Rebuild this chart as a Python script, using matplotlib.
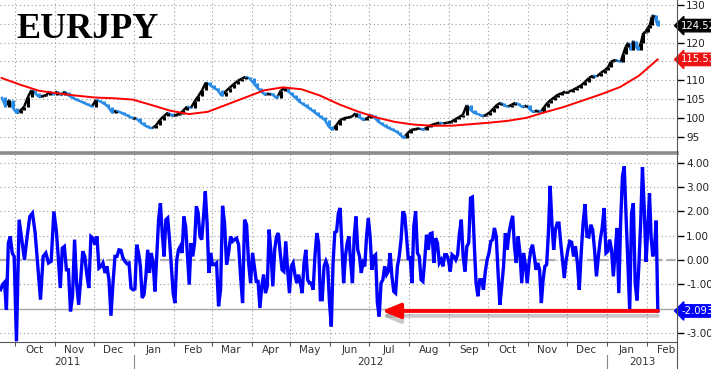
import matplotlib
matplotlib.use("Agg")
import matplotlib.pyplot as plt
import matplotlib.dates as mdates
import matplotlib.patheffects as pe
import matplotlib.transforms as mtrans
from matplotlib.lines import Line2D
from matplotlib.collections import LineCollection
import numpy as np
import pandas as pd

# month boundaries (first and last are partial months)
edges = ["2011-09-19", "2011-10-01", "2011-11-01", "2011-12-01", "2012-01-01",
         "2012-02-01", "2012-03-01", "2012-04-01", "2012-05-01", "2012-06-01",
         "2012-07-01", "2012-08-01", "2012-09-01", "2012-10-01", "2012-11-01",
         "2012-12-01", "2013-01-01", "2013-02-01", "2013-02-10"]

# EURJPY closes, grouped by month
close_by_month = [
    [105.6, 103.0, 104.8, 102.5],
    [101.2, 102.0, 103.0, 105.5, 107.4, 106.5, 105.6, 105.8, 106.0, 107.0, 106.2],
    [107.0, 106.0, 107.0, 105.9, 105.3, 104.8, 104.4, 103.9, 103.5, 103.0],
    [104.8, 104.4, 103.8, 103.0, 101.4, 101.9, 101.5, 101.0, 100.5, 99.9],
    [99.9, 98.9, 98.1, 97.5, 97.2, 98.0, 99.5, 100.5, 101.4, 100.5],
    [100.8, 101.0, 102.0, 103.0, 102.6, 104.4, 105.8, 107.4, 109.4, 108.8],
    [108.0, 107.4, 105.9, 107.0, 108.0, 108.9, 109.8, 110.4, 110.9, 110.5],
    [109.2, 108.0, 107.0, 106.1, 106.5, 106.1, 105.2, 107.2, 107.9, 107.0],
    [106.1, 105.2, 104.3, 103.6, 103.0, 102.3, 101.6, 100.8, 100.1, 99.4, 97.7],
    [96.8, 98.0, 99.4, 99.9, 100.1, 100.3, 101.2, 100.2, 99.4, 99.9],
    [100.8, 100.0, 99.0, 98.3, 97.7, 97.2, 96.8, 96.3, 95.5, 94.6, 95.9],
    [96.8, 97.0, 97.2, 96.8, 97.5, 98.1, 98.4, 98.7, 98.5, 98.7],
    [98.9, 99.6, 100.2, 100.8, 103.4, 102.1, 101.2, 101.0, 100.4, 100.8],
    [101.5, 102.5, 103.5, 104.0, 103.2, 103.0, 103.5, 104.0, 103.5, 102.8, 103.3],
    [102.2, 101.5, 102.0, 101.5, 102.8, 104.0, 104.8, 105.5, 106.2, 106.5, 107.0],
    [107.0, 107.4, 108.0, 108.6, 109.5, 110.6, 111.2, 111.0, 112.0, 112.7],
    [113.5, 114.9, 115.2, 115.4, 115.1, 114.9, 117.0, 118.9, 120.0, 118.0, 120.5,
     119.0, 118.0, 119.8, 122.5, 122.9],
    [124.0, 124.7, 126.9, 127.3, 126.0, 124.52],
]

# moving average, evenly sampled from first to last observation
ma_values = [110.6, 108.8, 107.2, 106.5, 105.9, 105.4, 105.2, 104.85, 103.4, 101.9,
             101.0, 101.6, 103.5, 105.4, 107.3, 108.1, 107.6, 105.9, 103.6, 101.7,
             100.1, 98.9, 98.2, 97.9, 97.9, 98.3, 98.7, 99.2, 100.0, 101.5,
             102.9, 104.6, 106.3, 108.2, 111.2, 115.53]

# daily move indicator, grouped by month
zscore_by_month = [
    [-1.22, -1.01, -0.92, -2.04, 0.70, 0.97, 0.29, 0.15],
    [-3.34, 1.66, 0.84, 0.01, 0.97, 1.79, 1.93, 1.11, -0.26, -1.63, 0.15, 0.29, -0.12, -0.05, 2.00],
    [1.25, 0.15, -1.15, 0.49, 0.56, -0.40, -0.40, -2.11, -1.49, 0.84, -0.95, -1.84, -0.81, 0.36,
     0.15, -0.60, -1.15, 0.97, 0.90],
    [0.63, 0.97, -0.33, -0.26, -0.12, -0.53, -0.26, -0.81, -2.29, -0.95, 0.15, 0.15, 0.42, 0.40,
     0.08, -0.05, -0.15, -0.12, -1.15, -1.22],
    [-1.19, 0.63, 0.29, -0.26, -1.56, -1.42, -0.67, 0.42, -0.53, 0.29, -0.12, -1.29, 0.15, 1.66,
     2.34, 1.11, 0.15, 1.66, 1.73, 0.84, -0.26, -1.36],
    [-1.77, 0.01, 0.42, 0.56, 0.29, 1.79, 1.38, 0.15, -1.01, 0.70, 0.15, 0.70, 2.21, 1.93, 0.97,
     0.84, 1.79, 2.82, 1.52, -0.53, 0.29],
    [-0.19, -0.19, -0.12, -1.90, -1.22, 2.23, 1.52, -0.19, 0.29, 0.97, 0.77, 0.84, 0.90, 0.63,
     -0.67, -1.77, 1.66, 1.45, -0.12, -0.95],
    [0.29, -0.26, -0.88, -0.88, -1.97, -1.08, -0.60, -1.36, -1.08, 1.25, 0.29, -1.08, 0.42, 0.97,
     1.11, 0.29, -0.40, -0.47, 0.77, -0.40, -1.36],
    [-0.26, -0.12, -0.60, -0.95, -0.60, -0.95, -1.36, -0.12, 0.42, -0.81, -0.95, -0.95, -1.22,
     0.15, 1.11, 0.70, -1.63, -1.63, -0.26, -0.05, -0.26, -1.77],
    [-2.73, -0.12, 1.14, 1.18, 1.93, 2.14, 0.56, -0.95, 0.15, 0.70, 0.97, -0.12, -0.95, 0.97,
     1.79, 0.42, 0.15, -0.53, -0.12, -0.26, 0.97, 1.73],
    [0.97, -0.40, 0.15, 0.22, -1.77, -2.32, -0.95, -0.81, -0.26, -0.60, -0.47, 0.29, -0.67, -1.29,
     -1.36, -0.26, 0.15, 0.84, 2.00, 1.86, 0.97, 0.01],
    [0.15, -0.95, 1.38, 2.00, 0.29, 0.15, -0.81, -0.88, 0.01, 1.04, 0.42, 1.08, 1.11, -0.12, 0.90,
     0.70, -0.12, 0.01, -0.26, 0.22, 0.22, 0.01],
    [-0.47, 0.22, 0.15, 0.01, 0.22, 1.11, 1.66, 0.15, -0.47, 0.56, 0.70, 2.55, 2.59, 0.70, -0.95,
     -1.49, -0.81, -0.81, -1.22, -0.47, 0.01],
    [0.29, 0.77, 0.84, 1.32, 0.97, -0.53, -1.84, -1.08, -0.26, 1.11, 0.42, 1.11, 1.52, 1.82, 0.56,
     -0.12, 0.97, 0.29, -0.95, 0.29, -0.19, -0.95],
    [-0.12, 0.42, 0.63, 0.15, -0.40, -0.12, -0.40, -1.77, -0.81, -0.26, -0.19, 1.11, 3.05, 1.52,
     0.42, 1.25, 1.52, 1.52, 0.70, 0.01, -0.74, -0.05],
    [0.42, 0.77, 0.73, 0.15, 0.56, -0.12, -1.22, 0.29, 1.52, 2.30, 0.97, 0.95, 1.45, 1.25, 0.42,
     -0.67, 0.15, 0.84, 1.32, 2.14, 0.29],
    [0.36, 0.84, 0.42, -0.67, 0.29, 1.32, -1.36, 1.52, 3.44, 3.85, 1.79, -0.12, -2.07, 1.93, 2.34,
     -0.95, -1.66, -0.26, 1.52, 3.82, 2.07, -0.07],
    [1.30, 2.74, 0.90, 0.15, 0.45, 1.62, -2.093],
]

price_ticks = [95, 100, 105, 110, 115, 120, 125, 130]
z_ticks = [-3, -2, -1, 0, 1, 2, 3, 4]


def month_dates(vals_by_month):
    out = []
    for i, vals in enumerate(vals_by_month):
        a, b = pd.Timestamp(edges[i]), pd.Timestamp(edges[i + 1])
        n = len(vals)
        out += [a + (b - a) * (k + 0.5) / n for k in range(n)]
    return pd.DatetimeIndex(out)


close = np.concatenate(close_by_month)
close_dates = month_dates(close_by_month)
zs = np.concatenate(zscore_by_month)
z_dates = month_dates(zscore_by_month)
ma_dates = pd.date_range(close_dates[0], close_dates[-1], periods=len(ma_values))

W, H = 711, 369
fig = plt.figure(figsize=(W / 100, H / 100), dpi=100)
ax1 = fig.add_axes([0, 1 - 151.5 / H, 677 / W, 151.5 / H])
ax2 = fig.add_axes([0, 1 - 342 / H, 677 / W, (342 - 153.3) / H])

x0 = pd.Timestamp("2011-09-19 07:00")
x1 = pd.Timestamp("2013-02-24 05:00")
month_ticks = pd.date_range("2011-10-01", "2013-02-01", freq="MS")

grid_kw = dict(color="#9a9a9a", linestyle=(0, (1, 2.5)), linewidth=0.8)
tag_font = dict(fontsize=7.2, color="white", family="DejaVu Sans")

for ax in (ax1, ax2):
    ax.set_xlim(x0, x1)
    ax.yaxis.tick_right()
    ax.tick_params(axis="y", direction="out", length=5, width=1, labelsize=7.5,
                   pad=1.5, labelcolor="#222222")
    ax.set_xticks(month_ticks)
    ax.grid(True, **grid_kw)
    ax.set_axisbelow(True)
    for s in ("left", "right", "top"):
        ax.spines[s].set_visible(False)


def add_tag(ax, y, text, color):
    tr = mtrans.blended_transform_factory(ax.transAxes, ax.transData)
    ax.text(1.006, y, text, transform=tr, ha="left", va="center", clip_on=False, zorder=10,
            bbox=dict(boxstyle="larrow,pad=0.12", fc=color, ec=color), **tag_font)


# ---- upper panel: price bars + moving average
xs = mdates.date2num(close_dates)
prev = np.r_[close[0], close[:-1]]
up = close >= prev
bar_colors = np.where(up, "black", "#2a8be6")
steps = [[(xs[i - 1], close[i - 1]), (xs[i], close[i])] for i in range(1, len(xs))]
ax1.add_collection(LineCollection(steps, colors=bar_colors[1:], linewidths=1.8,
                                  capstyle="butt", zorder=3))
ax1.vlines(close_dates, prev, close, colors=bar_colors, lw=2.2, zorder=3)
ax1.plot(ma_dates, ma_values, color="red", lw=1.4, zorder=4)
ax1.set_ylim(91.05, 131.33)
ax1.set_yticks(price_ticks)
# 125 and 115 sit behind the value tags
ax1.set_yticklabels(["" if t in (115, 125) else f"{t}" for t in price_ticks])
ax1.spines["bottom"].set_visible(False)
ax1.tick_params(axis="x", length=0, labelbottom=False)

add_tag(ax1, close[-1], f"{close[-1]:.2f}", "black")
add_tag(ax1, ma_values[-1], f"{ma_values[-1]:.2f}", "#ee1111")

fig.text(16 / W, 1 - 38 / H, "EURJPY", family="Liberation Serif", weight="bold",
         fontsize=26, color="black", va="baseline", ha="left")

# ---- lower panel
ax2.axhline(0, color="#b0b0b0", lw=1.6, ls=(0, (4, 2)), zorder=1)
ax2.axhline(-2, color="#a8a8a8", lw=1.0, zorder=1)
ax2.plot(z_dates, zs, color="#0000ff", lw=2.4, solid_joinstyle="miter", zorder=3)
ax2.set_ylim(-3.37, 4.39)
ax2.set_yticks(z_ticks)
ax2.set_yticklabels(["" if t == -2 else f"{t:.2f}" for t in z_ticks])
ax2.spines["top"].set_visible(True)
ax2.spines["top"].set_color("#8c8c8c")
ax2.spines["top"].set_linewidth(2.6)
ax2.spines["bottom"].set_color("#555555")
ax2.tick_params(axis="x", which="major", direction="out", length=3, color="#555555",
                labelbottom=False)
ax2.xaxis.set_minor_locator(mdates.DayLocator(bymonthday=16))
ax2.xaxis.set_minor_formatter(mdates.DateFormatter("%b"))
ax2.tick_params(axis="x", which="minor", length=0, labelsize=7.5, pad=2,
                labelcolor="#333333")

# arrow from the last reading back to the mid-2012 low
mid = (z_dates > pd.Timestamp("2012-06-15")) & (z_dates < pd.Timestamp("2012-08-01"))
low_date = z_dates[mid][np.argmin(zs[mid])]
ax2.annotate("", xy=(low_date + pd.Timedelta(days=2), zs[-1]), xytext=(z_dates[-1], zs[-1]),
             arrowprops=dict(arrowstyle="-|>,head_length=1.1,head_width=0.45", lw=2.8,
                             color="#ff0000", shrinkA=0, shrinkB=0,
                             path_effects=[pe.SimpleLineShadow(offset=(0, -3.5), shadow_color="#888888",
                                                               alpha=0.45),
                                           pe.Normal()]),
             zorder=6)

add_tag(ax2, zs[-1], f"{zs[-1]:.3f}", "#0000ff")

# year labels and separators below the month labels
ylab_tr = mtrans.blended_transform_factory(ax2.transData, ax2.transAxes)
for yr in (2011, 2012, 2013):
    a = max(pd.Timestamp(f"{yr}-01-01"), x0)
    b = min(pd.Timestamp(f"{yr + 1}-01-01"), x1)
    ax2.text(a + (b - a) / 2, -0.105, str(yr), transform=ylab_tr, ha="center", va="center",
             fontsize=7.5, color="#333333", clip_on=False)
    if yr > 2011:
        ax2.plot([a, a], [-0.07, -0.16], transform=ylab_tr, color="#888888", lw=0.8,
                 clip_on=False)

fig.add_artist(Line2D([677 / W, 677 / W], [0, 1], color="#555555", lw=0.8))

fig.savefig("out.png", dpi=100)
